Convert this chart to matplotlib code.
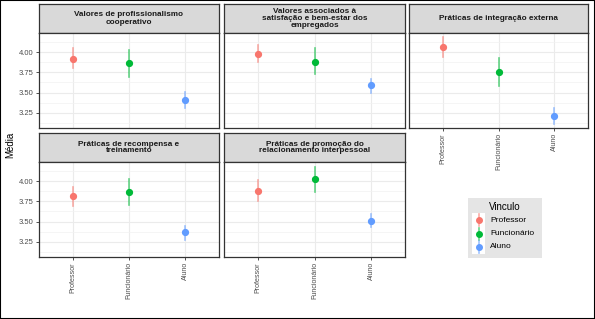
import matplotlib.pyplot as plt
from matplotlib.ticker import MultipleLocator
from matplotlib.patches import Rectangle

plt.rcParams['font.family'] = ['Liberation Sans', 'DejaVu Sans']

# Facet titles
facets = ['Valores de profissionalismo\ncooperativo',
          'Valores associados à\nsatisfação e bem-estar dos\nempregados',
          'Práticas de integração externa',
          'Práticas de recompensa e\ntreinamento',
          'Práticas de promoção do\nrelacionamento interpessoal']
# Groups (Vinculo)
categories = ['Professor', 'Funcionário', 'Aluno']
colors = ['#F8766D', '#00BA38', '#619CFF']

# Means and interval limits per facet, in the order of categories
means = [[3.92, 3.86, 3.41],
         [3.98, 3.88, 3.59],
         [4.06, 3.76, 3.21],
         [3.81, 3.86, 3.37],
         [3.88, 4.02, 3.51]]
lower = [[3.80, 3.69, 3.31],
         [3.88, 3.73, 3.50],
         [3.94, 3.58, 3.11],
         [3.69, 3.70, 3.28],
         [3.76, 3.87, 3.44]]
upper = [[4.05, 4.03, 3.51],
         [4.09, 4.05, 3.67],
         [4.18, 3.93, 3.31],
         [3.93, 4.03, 3.45],
         [4.01, 4.17, 3.59]]

W, H = 595, 319
fig = plt.figure(figsize=(W / 100, H / 100), dpi=100)
fig.patches.append(Rectangle((0, 0), 1, 1, transform=fig.transFigure, fill=False,
                             edgecolor='black', linewidth=1.5))

def rect(x0, y0, x1, y1):
    return [x0 / W, 1 - y1 / H, (x1 - x0) / W, (y1 - y0) / H]

cols = [(39, 219), (224, 405), (409, 588)]
rows = [(4, 33, 128), (133, 162, 257)]
# panel position: (col, row)
places = [(0, 0), (1, 0), (2, 0), (0, 1), (1, 1)]
# panels that show x tick labels
bottom_panels = [2, 3, 4]

for i, title in enumerate(facets):
    c, r = places[i]
    x0, x1 = cols[c]
    s0, s1, p1 = rows[r]

    # strip
    sax = fig.add_axes(rect(x0, s0, x1, s1))
    sax.set_facecolor('#d9d9d9')
    sax.set_xticks([])
    sax.set_yticks([])
    for sp in sax.spines.values():
        sp.set_color('#333333')
        sp.set_linewidth(0.9)
    sax.text(0.5, 0.5, title, ha='center', va='center', fontsize=5.9,
             fontweight='bold', color='#1a1a1a', linespacing=1.0,
             transform=sax.transAxes)

    # panel
    ax = fig.add_axes(rect(x0, s1, x1, p1))
    xs = range(1, len(categories) + 1)
    for k in range(len(categories)):
        ax.plot([xs[k], xs[k]], [lower[i][k], upper[i][k]], color=colors[k],
                linewidth=1.2, alpha=0.6, zorder=3)
        ax.plot(xs[k], means[i][k], 'o', color=colors[k], markersize=4.2, zorder=4)
    ax.set_xlim(0.4, 3.6)
    ax.set_ylim(3.065, 4.234)
    ax.yaxis.set_major_locator(MultipleLocator(0.25))
    ax.yaxis.set_minor_locator(MultipleLocator(0.125))
    ax.set_xticks(list(xs))
    ax.grid(True, which='major', color='#ebebeb', linewidth=0.8)
    ax.grid(True, which='minor', axis='y', color='#f2f2f2', linewidth=0.5)
    ax.set_axisbelow(True)
    for sp in ax.spines.values():
        sp.set_color('#333333')
        sp.set_linewidth(0.9)
    ax.tick_params(which='minor', length=0)
    ax.tick_params(which='major', length=2.2, width=0.6, color='#333333',
                   labelsize=5.5, labelcolor='#4d4d4d', pad=1.5)
    if c == 0:
        ax.set_yticklabels(['%.2f' % v for v in ax.get_yticks()])
    else:
        ax.tick_params(axis='y', length=0, labelleft=False)
    if i in bottom_panels:
        ax.set_xticklabels(categories, rotation=90, fontsize=5.1)
    else:
        ax.tick_params(axis='x', length=0, labelbottom=False)

fig.text(10 / W, 1 - 145 / H, 'Média', rotation=90, ha='center', va='center',
         fontsize=7, color='black')

# legend
lax = fig.add_axes(rect(468, 198, 542, 258))
lax.set_xlim(0, 74)
lax.set_ylim(60, 0)
lax.set_facecolor('#e5e5e5')
lax.set_xticks([])
lax.set_yticks([])
for sp in lax.spines.values():
    sp.set_visible(False)
lax.text(37, 9, 'Vinculo', ha='center', va='center', fontsize=7, color='black')
key_y = [22, 35.5, 49]
for k, lab in enumerate(categories):
    lax.add_patch(Rectangle((4, key_y[k] - 7), 13, 14, facecolor='white', edgecolor='none'))
    lax.plot([10.5, 10.5], [key_y[k] - 6, key_y[k] + 6], color=colors[k], linewidth=1.2, alpha=0.6)
    lax.plot(10.5, key_y[k], 'o', color=colors[k], markersize=4)
    lax.text(22, key_y[k], lab, ha='left', va='center', fontsize=6, color='black')

fig.savefig('out.png', dpi=100)
